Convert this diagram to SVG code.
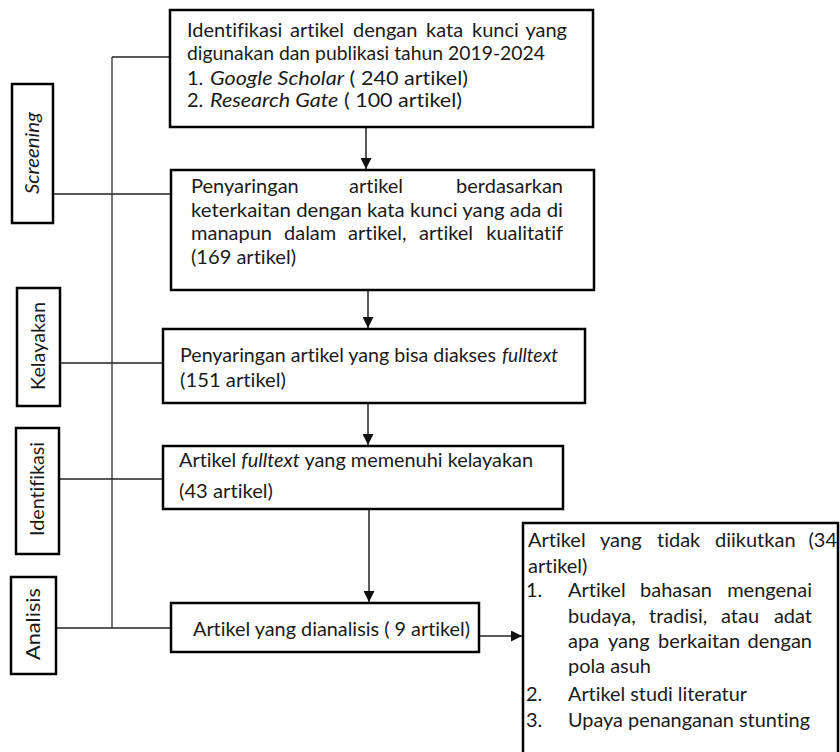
<svg xmlns="http://www.w3.org/2000/svg" width="840" height="752" viewBox="0 0 840 752">
<style>
.box{fill:#fff;stroke:#000;stroke-width:2.5}
.t{font-family:Lato,"Open Sans","Liberation Sans",sans-serif;font-size:20px;fill:#1a1a1a;font-variant-ligatures:none}
.i{font-style:italic}
.c{fill:none;stroke:#222;stroke-width:1.5}
.v{fill:none;stroke:#555;stroke-width:1.6}
</style>
<defs>
<marker id="ah" markerUnits="userSpaceOnUse" markerWidth="11" markerHeight="11" refX="11" refY="5.5" orient="auto">
<path d="M0,0 L11,5.5 L0,11 z" fill="#111"/>
</marker>
</defs>
<rect width="840" height="752" fill="#fff"/>
<g id="connectors">
<path class="v" d="M112,57 V628"/>
<path class="c" d="M112,57 H170"/>
<path class="c" d="M53,194 H171"/>
<path class="c" d="M60,363 H163"/>
<path class="c" d="M59,479 H163"/>
<path class="c" d="M56,628 H171"/>
<path class="c" d="M366,127 V169" marker-end="url(#ah)"/>
<path class="c" d="M368,290 V328" marker-end="url(#ah)"/>
<path class="c" d="M368,403 V445" marker-end="url(#ah)"/>
<path class="c" d="M369,509 V602" marker-end="url(#ah)"/>
<path class="c" d="M479,636 H522" marker-end="url(#ah)"/>
</g>
<g id="n-screening">
<rect class="box" x="12" y="84" width="41" height="139"/>
<text class="t i" transform="translate(32.5,153) rotate(-90)" y="6" text-anchor="middle" textLength="82" lengthAdjust="spacingAndGlyphs">Screening</text>
</g>
<g id="n-kelayakan">
<rect class="box" x="17" y="288" width="43" height="118"/>
<text class="t" transform="translate(38.5,346) rotate(-90)" y="6" text-anchor="middle" textLength="88" lengthAdjust="spacingAndGlyphs">Kelayakan</text>
</g>
<g id="n-identifikasi">
<rect class="box" x="16" y="428" width="43" height="126"/>
<text class="t" transform="translate(37.5,489) rotate(-90)" y="6" text-anchor="middle" textLength="94" lengthAdjust="spacingAndGlyphs">Identifikasi</text>
</g>
<g id="n-analisis">
<rect class="box" x="11" y="577" width="45" height="97"/>
<text class="t" transform="translate(33.5,624) rotate(-90)" y="6" text-anchor="middle" textLength="72" lengthAdjust="spacingAndGlyphs">Analisis</text>
</g>
<g id="n-identification">
<rect class="box" x="170" y="10" width="423" height="117"/>
<text class="t" y="37"><tspan x="187">Identifikasi</tspan><tspan x="290">artikel</tspan><tspan x="353">dengan</tspan><tspan x="426">kata</tspan><tspan x="472">kunci</tspan></text>
<text class="t" x="567" y="37" text-anchor="end">yang</text>
<text class="t" x="187" y="60" textLength="358" lengthAdjust="spacingAndGlyphs">digunakan dan publikasi tahun 2019-2024</text>
<text class="t" x="187" y="85">1.</text>
<text class="t" x="210" y="85" textLength="258" lengthAdjust="spacingAndGlyphs"><tspan class="i">Google Scholar</tspan> ( 240 artikel)</text>
<text class="t" x="187" y="107">2.</text>
<text class="t" x="210" y="107" textLength="252" lengthAdjust="spacingAndGlyphs"><tspan class="i">Research Gate</tspan> ( 100 artikel)</text>
</g>
<g id="n-screening-step">
<rect class="box" x="171" y="170" width="423" height="120"/>
<text class="t" x="191" y="193">Penyaringan</text>
<text class="t" x="349" y="193">artikel</text>
<text class="t" x="563" y="193" text-anchor="end">berdasarkan</text>
<text class="t" x="191" y="217" textLength="372" lengthAdjust="spacingAndGlyphs">keterkaitan dengan kata kunci yang ada di</text>
<text class="t" y="240"><tspan x="191">manapun</tspan><tspan x="284">dalam</tspan><tspan x="348">artikel,</tspan><tspan x="419">artikel</tspan></text>
<text class="t" x="563" y="240" text-anchor="end">kualitatif</text>
<text class="t" x="191" y="264" textLength="105" lengthAdjust="spacingAndGlyphs">(169 artikel)</text>
</g>
<g id="n-fulltext">
<rect class="box" x="163" y="329" width="422" height="74"/>
<text class="t" x="180" y="362" textLength="316" lengthAdjust="spacingAndGlyphs">Penyaringan artikel yang bisa diakses</text>
<text class="t i" x="502" y="362" textLength="56" lengthAdjust="spacingAndGlyphs">fulltext</text>
<text class="t" x="180" y="387" textLength="106" lengthAdjust="spacingAndGlyphs">(151 artikel)</text>
</g>
<g id="n-eligible">
<rect class="box" x="163" y="446" width="400" height="63"/>
<text class="t" x="179" y="467" textLength="354" lengthAdjust="spacingAndGlyphs">Artikel <tspan class="i">fulltext</tspan> yang memenuhi kelayakan</text>
<text class="t" x="179" y="498" textLength="94" lengthAdjust="spacingAndGlyphs">(43 artikel)</text>
</g>
<g id="n-analyzed">
<rect class="box" x="171" y="603" width="308" height="49"/>
<text class="t" x="193" y="636" textLength="277" lengthAdjust="spacingAndGlyphs">Artikel yang dianalisis ( 9 artikel)</text>
</g>
<g id="n-excluded">
<rect class="box" x="523" y="523" width="315" height="240"/>
<text class="t" y="547"><tspan x="528">Artikel</tspan><tspan x="600">yang</tspan><tspan x="657">tidak</tspan><tspan x="715">diikutkan</tspan></text>
<text class="t" x="837" y="547" text-anchor="end">(34</text>
<text class="t" x="528" y="573">artikel)</text>
<text class="t" x="526" y="597">1.</text>
<text class="t" y="597"><tspan x="568">Artikel</tspan><tspan x="640">bahasan</tspan></text>
<text class="t" x="812" y="597" text-anchor="end">mengenai</text>
<text class="t" y="623"><tspan x="568">budaya,</tspan><tspan x="649">tradisi,</tspan><tspan x="721">atau</tspan></text>
<text class="t" x="812" y="623" text-anchor="end">adat</text>
<text class="t" y="648"><tspan x="568">apa</tspan><tspan x="608">yang</tspan><tspan x="658">berkaitan</tspan></text>
<text class="t" x="812" y="648" text-anchor="end">dengan</text>
<text class="t" x="568" y="673" textLength="83" lengthAdjust="spacingAndGlyphs">pola asuh</text>
<text class="t" x="526" y="701">2.</text>
<text class="t" x="568" y="701" textLength="179" lengthAdjust="spacingAndGlyphs">Artikel studi literatur</text>
<text class="t" x="526" y="727">3.</text>
<text class="t" x="568" y="727" textLength="242" lengthAdjust="spacingAndGlyphs">Upaya penanganan stunting</text>
</g>
</svg>
